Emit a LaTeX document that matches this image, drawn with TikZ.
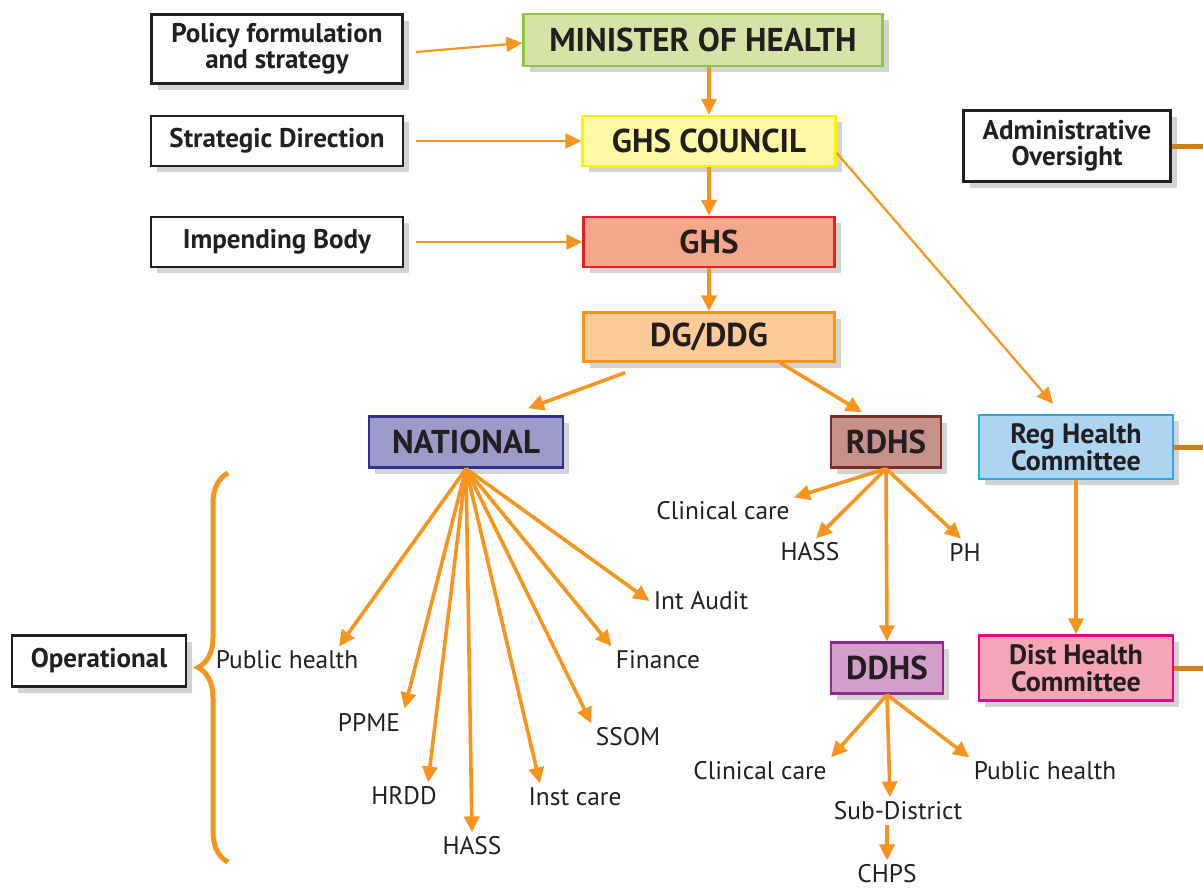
\documentclass[tikz,border=0pt]{standalone}
\usepackage{fontspec}
\setmainfont{PT Sans}
\usepackage{xcolor}
\usepackage{tikz}
\usetikzlibrary{arrows.meta,shadows,calc,decorations.pathreplacing}
\definecolor{orng}{HTML}{F7941E}
\definecolor{txt}{HTML}{231F20}
\definecolor{minfill}{HTML}{D5E3A6}
\definecolor{minline}{HTML}{8DC63F}
\definecolor{cnfill}{HTML}{FFF9A5}
\definecolor{cnline}{HTML}{FFF200}
\definecolor{ghsfill}{HTML}{F5A78C}
\definecolor{ghsline}{HTML}{ED1C24}
\definecolor{dgfill}{HTML}{FDCA98}
\definecolor{dgline}{HTML}{F7941E}
\definecolor{natfill}{HTML}{9B9AC9}
\definecolor{natline}{HTML}{2E3192}
\definecolor{rdfill}{HTML}{C6918A}
\definecolor{rdline}{HTML}{7F2A22}
\definecolor{regfill}{HTML}{ABD5F0}
\definecolor{regline}{HTML}{27AAE1}
\definecolor{ddfill}{HTML}{D29FCB}
\definecolor{ddline}{HTML}{92278F}
\definecolor{distfill}{HTML}{F4A6B7}
\definecolor{distline}{HTML}{EC008C}
\tikzset{
  sidebox/.style = {draw=txt, line width=1.4pt, fill=white, text=txt, align=center,
                    font=\bfseries\fontsize{13.5}{13}\selectfont, inner sep=0pt,
                    drop shadow={opacity=0.35, shadow xshift=3pt, shadow yshift=-3pt}},
  orgbox/.style  = {line width=1.2pt, text=txt, align=center, inner sep=0pt,
                    font=\bfseries\fontsize{16.5}{18}\selectfont,
                    drop shadow={opacity=0.35, shadow xshift=3pt, shadow yshift=-3pt}},
  combox/.style  = {orgbox, font=\bfseries\fontsize{14}{13.5}\selectfont},
  lbl/.style     = {text=txt, inner sep=2pt, font=\fontsize{12.7}{14}\selectfont},
  arr/.style     = {-{Triangle[length=8pt,width=7.5pt]}, line width=1.8pt, orng},
  thinarr/.style = {arr, line width=1.1pt},
  stub/.style    = {line width=2.5pt, orng!85!black},
  brc/.style     = {decorate, decoration={brace, amplitude=15pt}, orng, line width=2.5pt},
}
\begin{document}
\begin{tikzpicture}[x=0.5pt, y=-0.5pt]
\useasboundingbox (0,0) rectangle (1203,889);
% side boxes
\node[sidebox, minimum width=125.5pt, minimum height=34.5pt] (pol) at (277,49) {Policy formulation\\and strategy};
\node[sidebox, minimum width=126pt, minimum height=25pt] (sd) at (277,141) {Strategic Direction};
\node[sidebox, minimum width=126pt, minimum height=25pt] (ib) at (277,242) {Impending Body};
\node[sidebox, minimum width=103.5pt, minimum height=35.5pt] (adm) at (1067,146) {Administrative\\Oversight};
\node[sidebox, minimum width=87pt, minimum height=25.5pt] (op) at (99,661) {Operational};
% main chain
\node[orgbox, fill=minfill, draw=minline, minimum width=179.5pt, minimum height=26pt] (min) at (703,40) {MINISTER OF HEALTH};
\node[orgbox, fill=cnfill, draw=cnline, minimum width=126.5pt, minimum height=25pt] (cn) at (709,141) {GHS COUNCIL};
\node[orgbox, fill=ghsfill, draw=ghsline, minimum width=125.5pt, minimum height=25pt] (ghs) at (709,242) {GHS};
\node[orgbox, fill=dgfill, draw=dgline, minimum width=125.5pt, minimum height=24.5pt] (dg) at (709,337) {DG/DDG};
\node[orgbox, fill=natfill, draw=natline, minimum width=97pt, minimum height=25.5pt] (nat) at (466,442) {NATIONAL};
\node[orgbox, fill=rdfill, draw=rdline, minimum width=55pt, minimum height=25.5pt] (rdhs) at (886,442) {RDHS};
\node[orgbox, fill=ddfill, draw=ddline, minimum width=56pt, minimum height=25.5pt] (ddhs) at (887,668) {DDHS};
\node[combox, fill=regfill, draw=regline, minimum width=97pt, minimum height=32pt] (reg) at (1076,447) {Reg Health\\Committee};
\node[combox, fill=distfill, draw=distline, minimum width=97pt, minimum height=32.5pt] (dist) at (1076,668) {Dist Health\\Committee};
% national units
\node[lbl] (pubh)  at (287,660) {Public health};
\node[lbl] (ppme)  at (369,722) {PPME};
\node[lbl] (hrdd)  at (404,796) {HRDD};
\node[lbl] (hassa) at (472,846) {HASS};
\node[lbl] (inst)  at (575,797) {Inst care};
\node[lbl] (ssom)  at (628,737) {SSOM};
\node[lbl] (fin)   at (658,660) {Finance};
\node[lbl] (ia)    at (701,601) {Int Audit};
% regional and district units
\node[lbl] (cca)   at (723,511) {Clinical care};
\node[lbl] (hassb) at (810,552) {HASS};
\node[lbl] (ph)    at (965,552) {PH};
\node[lbl] (ccb)   at (760,771) {Clinical care};
\node[lbl] (sub)   at (898,811) {Sub-District};
\node[lbl] (pubd)  at (1045,771) {Public health};
\node[lbl] (chps)  at (887,874) {CHPS};
% brace
\coordinate (brtop) at (228,473);
\coordinate (brbot) at (228,862);
\draw[brc] (brbot) -- (brtop);
% off-page ends
\coordinate (admR)  at (1203,146);
\coordinate (regR)  at (1203,447);
\coordinate (distR) at (1203,668);
\draw[stub] (adm.east) -- (admR);
\draw[stub] (reg.east) -- (regR);
\draw[stub] (dist.east) -- (distR);
% arrows
\draw[thinarr, shorten <=6pt] ([yshift=-2pt]pol.east) -- ([yshift=-1.5pt]min.west);
\draw[thinarr, shorten <=6pt] (sd.east) -- (cn.west);
\draw[thinarr, shorten <=6pt] (ib.east) -- (ghs.west);
\draw[arr] ([xshift=3pt]min.south) -- (cn.north);
\draw[arr] (cn.south) -- (ghs.north);
\draw[arr] (ghs.south) -- (dg.north);
\draw[arr] ([shift={(-42pt,-5pt)}]dg.south) -- ([shift={(31pt,3.5pt)}]nat.north);
\draw[arr] ([xshift=35.5pt]dg.south) -- ([shift={(-12pt,1.5pt)}]rdhs.north);
\draw[thinarr] ([yshift=-6pt]cn.east) -- ([shift={(-11.5pt,5pt)}]reg.north);
\draw[arr] (reg.south) -- (dist.north);
\draw[arr] (nat.south) -- ([xshift=26pt]pubh.north);
\draw[arr] (nat.south) -- (ppme.north east);
\draw[arr] (nat.south) -- ([xshift=12pt]hrdd.north);
\draw[arr] (nat.south) -- (hassa.north);
\draw[arr] (nat.south) -- ([xshift=-17.5pt]inst.north);
\draw[arr] (nat.south) -- (ssom.north west);
\draw[arr] (nat.south) -- (fin.north west);
\draw[arr] (nat.south) -- (ia.west);
\draw[arr] (rdhs.south) -- (cca.north east);
\draw[arr] (rdhs.south) -- ([xshift=3pt]hassb.north);
\draw[arr] (rdhs.south) -- ([xshift=-2pt]ph.north);
\draw[arr] (rdhs.south) -- (ddhs.north);
\draw[arr] (ddhs.south) -- (ccb.north east);
\draw[arr] (ddhs.south) -- ([xshift=-4pt]sub.north);
\draw[arr] (ddhs.south) -- (pubd.north west);
\draw[arr] ([xshift=-5.5pt]sub.south) -- (chps.north);
\end{tikzpicture}
\end{document}
